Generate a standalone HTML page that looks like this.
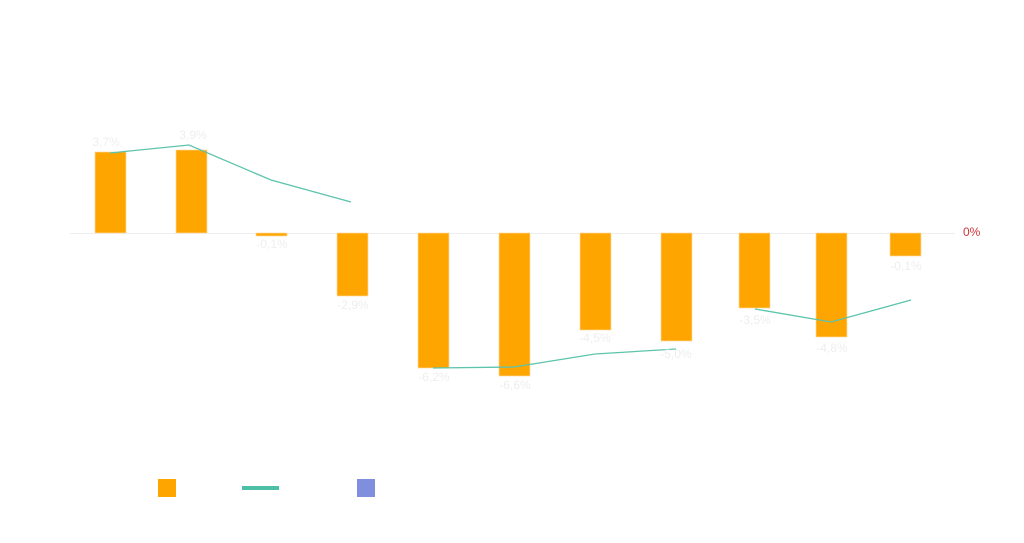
<!DOCTYPE html><html><head><style>body{margin:0;background:#fff}</style></head><body>
<svg width="1024" height="538" xmlns="http://www.w3.org/2000/svg" font-family="Liberation Sans, sans-serif" font-size="12">
<line x1="70" y1="233.5" x2="955" y2="233.5" stroke="#eeeeee" stroke-width="1"/>
<text x="963" y="236" fill="#d0363a" font-size="12">0%</text>
<g fill="#ffa500" stroke="#ffd9a0" stroke-width="0.7">
<rect x="95" y="152" width="31" height="81"/>
<rect x="176" y="150" width="31" height="83"/>
<rect x="256" y="233" width="31" height="3"/>
<rect x="337" y="233" width="31" height="63"/>
<rect x="418" y="233" width="31" height="135"/>
<rect x="499" y="233" width="31" height="143"/>
<rect x="580" y="233" width="31" height="97"/>
<rect x="661" y="233" width="31" height="108"/>
<rect x="739" y="233" width="31" height="75"/>
<rect x="816" y="233" width="31" height="104"/>
<rect x="890" y="233" width="31" height="23"/>
</g>
<g fill="none" stroke="#5cc4ac" stroke-width="1.3">
<polyline points="110,153 189,145 271,180 351,202"/>
<polyline points="433,368 514,367 595,354 676,349"/>
<polyline points="755,309 831,322 911,300"/>
</g>
<g fill="#eeeeee" text-anchor="middle">
<text x="106" y="146">3,7%</text>
<text x="193" y="139">3,9%</text>
<text x="272" y="248">-0,1%</text>
<text x="353" y="309">-2,9%</text>
<text x="434" y="381">-6,2%</text>
<text x="515" y="389">-6,6%</text>
<text x="595" y="342">-4,5%</text>
<text x="676" y="358">-5,0%</text>
<text x="755" y="324">-3,5%</text>
<text x="832" y="352">-4,8%</text>
<text x="906" y="270">-0,1%</text>
</g>
<rect x="158" y="479" width="18" height="18" fill="#ffa500"/>
<rect x="242" y="486" width="37" height="4" fill="#4cbfa6"/>
<rect x="357" y="479" width="18" height="18" fill="#7f8fde"/>
</svg>
</body></html>
